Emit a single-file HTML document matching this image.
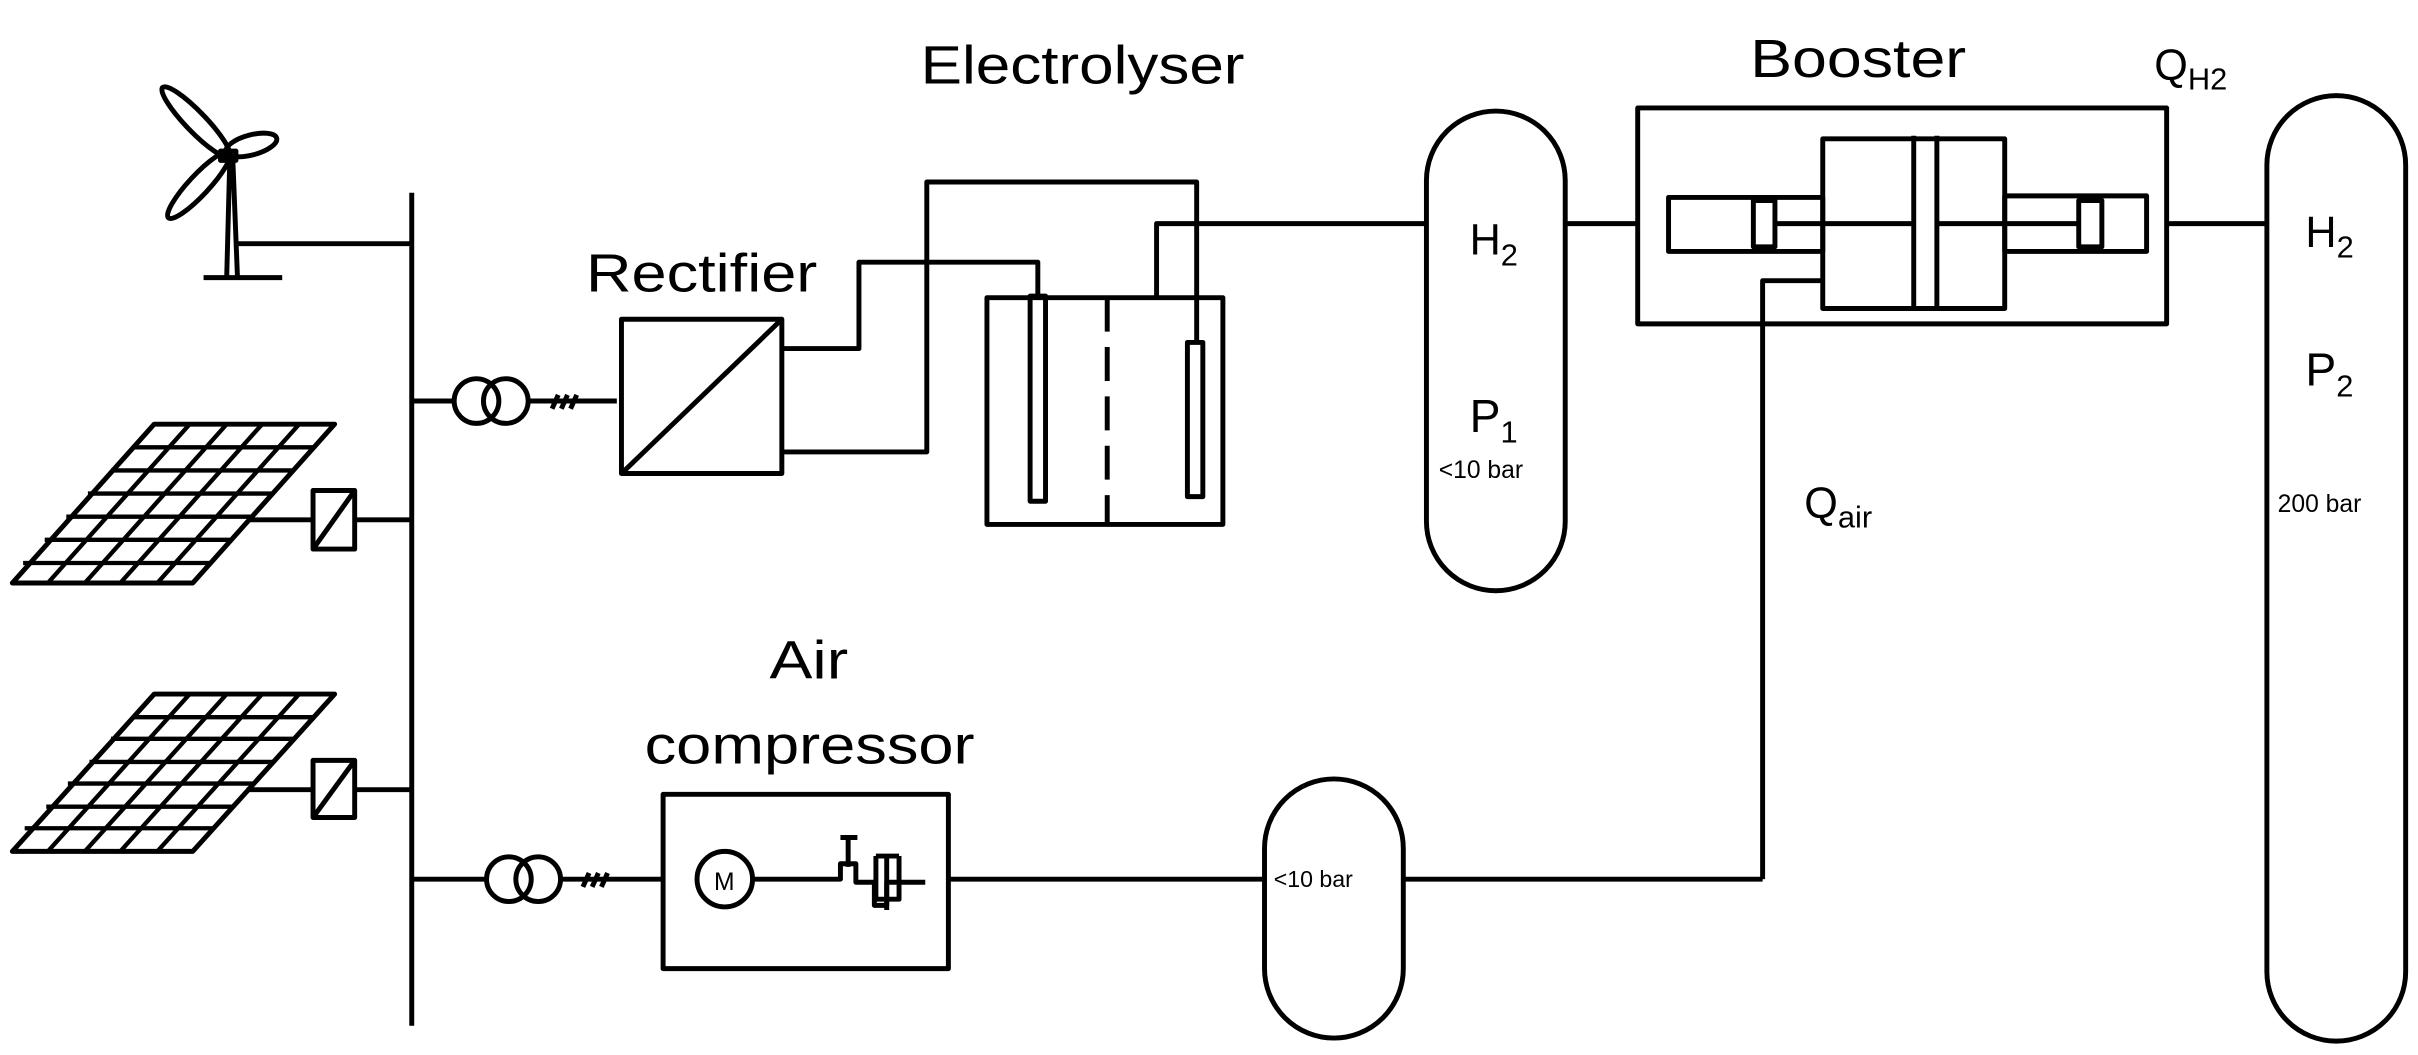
<!DOCTYPE html>
<html><head><meta charset="utf-8"><style>html,body{margin:0;padding:0;background:#fff}svg{display:block}</style></head>
<body>
<svg width="2418" height="1055" viewBox="0 0 1568 684" preserveAspectRatio="none" xmlns="http://www.w3.org/2000/svg">
<g fill="none" stroke="#000" stroke-width="3.2" stroke-linejoin="round">
<!-- wind turbine -->
<ellipse cx="127" cy="79" rx="31" ry="6.5" transform="rotate(46 127 79)"/>
<ellipse cx="163" cy="94" rx="17" ry="6.5" transform="rotate(-15 163 94)"/>
<ellipse cx="129" cy="120" rx="29" ry="6.5" transform="rotate(133 129 120)"/>
<rect x="143" y="98" width="10" height="6"/>
<path d="M149,104 L147,180 M151,104 L154,180"/>
<path d="M132,180 H183"/>
<path d="M154,158 H267"/>
<!-- bus -->
<path d="M267,125 V665"/>
<!-- top transformer/rectifier -->
<path d="M267,260 H295"/>
<circle cx="309" cy="260" r="14.5"/><circle cx="328" cy="260" r="14.5"/>
<path d="M342,260 H400"/>
<path d="M358,265 L362,256 M364,265 L368,256 M370,265 L374,256"/>
<rect x="403" y="207" width="104" height="100"/>
<path d="M403,307 L507,207"/>
<path d="M507,226 H557 V170 H673 V192"/>
<path d="M507,293 H601 V118 H776 V222"/>
<!-- electrolyser -->
<rect x="640" y="193" width="153" height="147"/>
<path d="M718,193 V340" stroke-dasharray="22,10"/>
<rect x="668" y="192" width="10" height="133"/>
<rect x="770" y="222" width="10" height="100"/>
<path d="M750,193 V145 H925"/>
<!-- tank 1 -->
<rect x="925" y="72" width="90" height="311" rx="45" ry="45"/>
<path d="M1015,145 H1062"/>
<!-- booster -->
<rect x="1062" y="70" width="343" height="140"/>
<rect x="1182" y="90" width="118" height="110"/>
<path d="M1241,88 V200 M1256,88 V200"/>
<rect x="1082" y="128" width="100" height="35"/>
<rect x="1137" y="130" width="14" height="30"/>
<rect x="1300" y="127" width="92" height="36"/>
<rect x="1348" y="130" width="15" height="30"/>
<path d="M1151,145 H1241 M1256,145 H1348"/>
<path d="M1405,145 H1470"/>
<path d="M1143,570 V182 H1182"/>
<!-- tank 2 -->
<rect x="1470" y="62" width="90" height="613" rx="45" ry="45"/>
<!-- solar 1 -->
<path d="M100,275 H217 L125,378 H8 Z"/>
<g stroke-width="2.8">
<path d="M86,290 H203 M72,305 H190 M57,320 H176 M43,335 H163 M29,350 H150 M15,365 H137"/>
<path d="M123,275 L31,378 M147,275 L55,378 M170,275 L78,378 M194,275 L102,378"/>
</g>
<rect x="203" y="318" width="27" height="38"/><path d="M203,356 L230,318"/>
<path d="M160,337 H203 M230,337 H267"/>
<!-- solar 2 -->
<path d="M100,450 H217 L125,552 H8 Z"/>
<g stroke-width="2.8">
<path d="M86,465 H203 M72,479 H190 M58,494 H177 M44,508 H164 M30,523 H151 M16,537 H138"/>
<path d="M123,450 L31,552 M147,450 L55,552 M170,450 L78,552 M194,450 L102,552"/>
</g>
<rect x="203" y="493" width="27" height="37"/><path d="M203,530 L230,493"/>
<path d="M160,512 H203 M230,512 H267"/>
<!-- bottom transformer / compressor -->
<path d="M267,570 H316"/>
<circle cx="330" cy="570" r="14.5"/><circle cx="349" cy="570" r="14.5"/>
<path d="M363,570 H430"/>
<path d="M378,575 L382,566 M384,575 L388,566 M390,575 L394,566"/>
<rect x="430" y="515" width="185" height="113"/>
<circle cx="470" cy="570" r="18"/>
<path d="M488,570 H545 V560 H555 V572 H567 V587 H575 V572 H600"/>
<path d="M545,543 H556 M550,543 V562"/>
<path d="M568,555 H583 M568,555 V583 H583 V555 M575,555 V590"/>
<path d="M615,570 H820"/>
<rect x="820" y="505" width="90" height="168" rx="45" ry="45"/>
<path d="M910,570 H1143"/>
</g>
<g font-family="'Liberation Sans', sans-serif" fill="#000">
<text x="597" y="54" font-size="35" textLength="210" lengthAdjust="spacingAndGlyphs">Electrolyser</text>
<text x="380" y="189" font-size="35" textLength="150" lengthAdjust="spacingAndGlyphs">Rectifier</text>
<text x="1135" y="50" font-size="35" textLength="140" lengthAdjust="spacingAndGlyphs">Booster</text>
<text x="1397" y="52" font-size="28">Q<tspan font-size="20" dy="6">H2</tspan></text>
<text x="1170" y="336" font-size="28">Q<tspan font-size="20" dy="6">air</tspan></text>
<text x="953" y="165" font-size="28">H<tspan font-size="20" dy="7">2</tspan></text>
<text x="953" y="280" font-size="30">P<tspan font-size="20" dy="7">1</tspan></text>
<text x="933" y="310" font-size="16">&lt;10 bar</text>
<text x="1495" y="160" font-size="28">H<tspan font-size="20" dy="7">2</tspan></text>
<text x="1495" y="250" font-size="30">P<tspan font-size="20" dy="7">2</tspan></text>
<text x="1477" y="332" font-size="16">200 bar</text>
<text x="826" y="575" font-size="15">&lt;10 bar</text>
<text x="499" y="440" font-size="35" textLength="51" lengthAdjust="spacingAndGlyphs">Air</text>
<text x="418" y="495" font-size="35" textLength="214" lengthAdjust="spacingAndGlyphs">compressor</text>
<text x="463" y="577" font-size="16">M</text>
</g>
</svg>
</body></html>
